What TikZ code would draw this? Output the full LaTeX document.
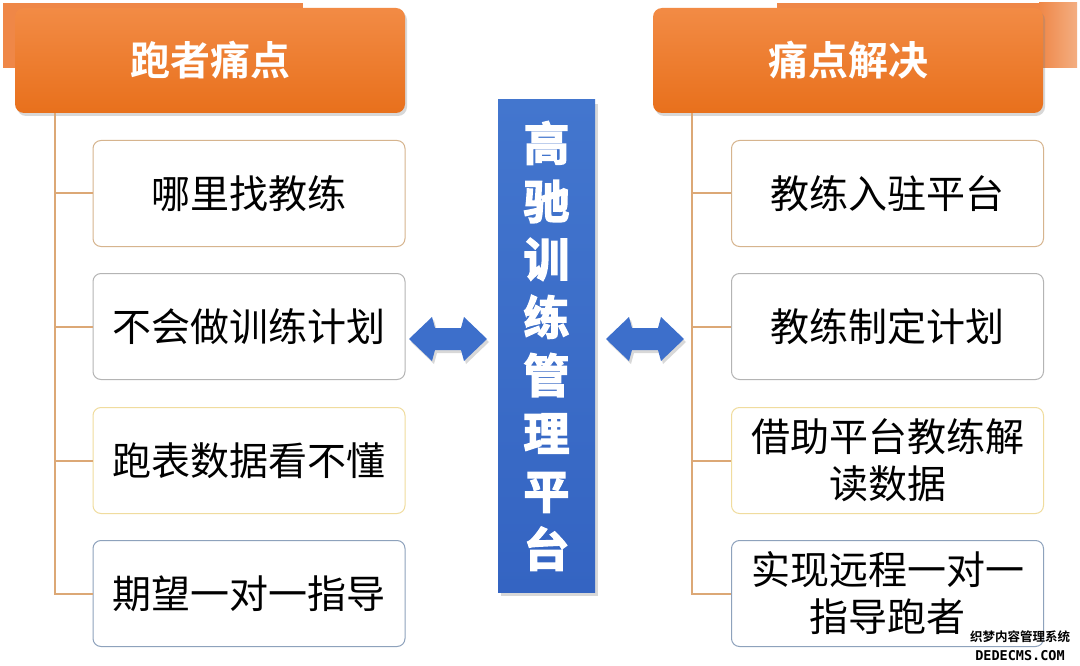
\documentclass[tikz,border=0pt]{standalone}
\usepackage{fontspec}
\newfontfamily\cjk{Noto Sans CJK SC}
\newfontfamily\cjkbold{Noto Sans CJK SC Bold}
\newfontfamily\cjkheavy{Noto Sans CJK SC Bold}[FakeBold=3]
\newfontfamily\wmmono{DejaVu Sans Mono Bold}
\usetikzlibrary{shadows,calc}
\definecolor{hdtop}{HTML}{F28B45}
\definecolor{hdbot}{HTML}{E8701C}
\definecolor{bgor}{HTML}{EF8747}
\definecolor{bgorlight}{HTML}{F3AE82}
\definecolor{connc}{HTML}{DCA876}
\definecolor{tanc}{HTML}{D6B48E}
\definecolor{grayc}{HTML}{B4B4B4}
\definecolor{yelc}{HTML}{F0DC9E}
\definecolor{bluegc}{HTML}{8EA2BC}
\definecolor{bartop}{HTML}{4376CE}
\definecolor{barbot}{HTML}{3464C2}
\definecolor{arrc}{HTML}{3D6FCB}
\tikzset{
  boxbase/.style={draw, rounded corners=8pt, line width=1pt, fill=white,
    minimum width=312pt, minimum height=106pt, inner sep=0pt, align=center,
    font=\cjk\fontsize{39}{47}\selectfont, text=black},
  tanbox/.style={boxbase, draw=tanc},
  graybox/.style={boxbase, draw=grayc},
  yelbox/.style={boxbase, draw=yelc},
  bluebox/.style={boxbase, draw=bluegc},
  header/.style={rounded corners=9pt, top color=hdtop, bottom color=hdbot,
    minimum width=390pt, minimum height=105pt, inner sep=0pt, text=white,
    font=\cjkbold\fontsize{40}{48}\selectfont,
    drop shadow={opacity=0.3, shadow xshift=2pt, shadow yshift=-3pt}},
  conn/.style={draw=connc, line width=2pt},
  barstyle/.style={top color=bartop, bottom color=barbot, minimum width=97pt,
    minimum height=492pt, inner sep=0pt,
    drop shadow={opacity=0.3, shadow xshift=3pt, shadow yshift=-4pt}},
  arrowfill/.style={fill=arrc, drop shadow={opacity=0.3, shadow xshift=2pt, shadow yshift=-3pt}},
}
\begin{document}
\begin{tikzpicture}[x=1pt,y=-1pt]
\useasboundingbox[fill=white] (0,0) rectangle (1080,666);
% background strips behind headers
\fill[bgor] (3,3) rectangle (303,68);
\fill[bgor] (777,3) rectangle (1040,68);
\shade[left color=bgor, right color=bgorlight] (1039,3) rectangle (1077,68);
% headers
\node[header] (hl) at (210,60.5) {跑者痛点};
\node[header] (hr) at (848,60.5) {痛点解决};
% left boxes
\node[tanbox]  (l1) at (249,193.5) {哪里找教练};
\node[graybox] (l2) at (249,326.5) {不会做训练计划};
\node[yelbox]  (l3) at (249,460.5) {跑表数据看不懂};
\node[bluebox] (l4) at (249,593.5) {期望一对一指导};
% right boxes
\node[tanbox]  (r1) at (887.5,193.5) {教练入驻平台};
\node[graybox] (r2) at (887.5,326.5) {教练制定计划};
\node[yelbox]  (r3) at (887.5,460.5) {借助平台教练解\\读数据};
\node[bluebox] (r4) at (887.5,593.5) {实现远程一对一\\指导跑者};
% trunks
\coordinate (lt) at (55,113);
\coordinate (rt) at (692,113);
\draw[conn] (lt) |- (l4.west);
\draw[conn] (lt |- l1.west) -- (l1.west);
\draw[conn] (lt |- l2.west) -- (l2.west);
\draw[conn] (lt |- l3.west) -- (l3.west);
\draw[conn] (rt) |- (r4.west);
\draw[conn] (rt |- r1.west) -- (r1.west);
\draw[conn] (rt |- r2.west) -- (r2.west);
\draw[conn] (rt |- r3.west) -- (r3.west);
% central bar
\node[barstyle] (bar) at (546.5,346) {};
\node[text=white, align=center, inner sep=0pt,
  font=\cjkheavy\fontsize{46}{58}\selectfont] (bartext) at (bar.center)
  {高\\驰\\训\\练\\管\\理\\平\\台};
% double arrows
\coordinate (la) at (448,339);
\coordinate (ra) at (645,339);
\foreach \c in {la,ra}{
  \path[arrowfill] ($(\c)+(-39,0)$) -- ($(\c)+(-16,-22)$) -- ($(\c)+(-13,-11)$)
    -- ($(\c)+(13,-11)$) -- ($(\c)+(16,-22)$) -- ($(\c)+(39,0)$)
    -- ($(\c)+(16,22)$) -- ($(\c)+(13,11)$) -- ($(\c)+(-13,11)$)
    -- ($(\c)+(-16,22)$) -- cycle;
}
% watermark
\node[font=\cjkbold\fontsize{12.5}{14}\selectfont, inner sep=0pt, text=black] (wm1) at (1020,637) {织梦内容管理系统};
\node[font=\wmmono\fontsize{13.5}{14}\selectfont, inner sep=0pt, text=black] (wm2) at (1020,656) {DEDECMS.COM};
\end{tikzpicture}
\end{document}
